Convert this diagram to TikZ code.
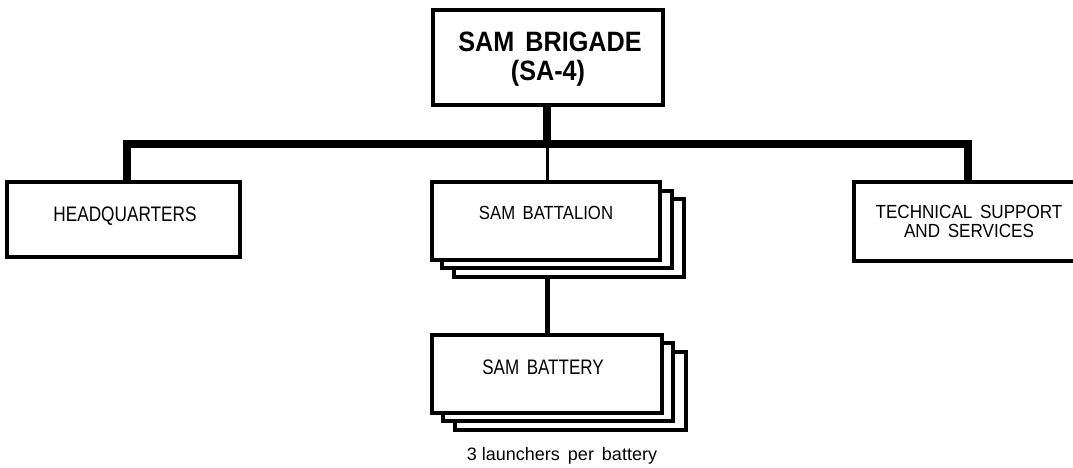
\documentclass[tikz,border=0pt]{standalone}
\usepackage{fontspec}
\usepackage{graphicx}
\setmainfont{Liberation Sans}
\begin{document}
\begin{tikzpicture}[x=1pt,y=-1pt,
  unit/.style={draw=black,line width=4.5pt,fill=white},
  backunit/.style={draw=black,line width=3.5pt,fill=white},
  bar/.style={line width=8pt},
  thinbar/.style={line width=3pt},
  txt/.style={inner sep=0pt,align=center}]
\useasboundingbox (0,0) rectangle (1073,468);
% top
\draw[unit] (433,10) rectangle (663,105);
\node[txt] (brig) at (550,42) {\scalebox{0.9}[1]{\fontsize{28}{30}\selectfont\bfseries SAM\, BRIGADE}};
\node[txt] (brig2) at (548,73) {\scalebox{0.9}[1]{\fontsize{28}{30}\selectfont\bfseries (SA-4)}};
\coordinate (topbot) at (547,106);
\coordinate (barmid) at (547,144);
\coordinate (barL) at (127,144);
\coordinate (barR) at (968,144);
% HQ
\draw[unit] (7,182) rectangle (240,257);
\node[txt] (hq) at (125,216) {\scalebox{0.82}[1]{\fontsize{21}{23}\selectfont HEADQUARTERS}};
% tech
\draw[unit] (854,182) rectangle (1078,261);
\node[txt] (tech1) at (969,212) {\scalebox{0.9}[1]{\fontsize{19}{20}\selectfont TECHNICAL\, SUPPORT}};
\node[txt] (tech2) at (969,231) {\scalebox{0.9}[1]{\fontsize{19}{20}\selectfont AND\, SERVICES}};
% battalion stack
\draw[backunit] (454,199) rectangle (684,277);
\draw[backunit] (442,191) rectangle (672,268);
\draw[unit] (432,182) rectangle (660,260);
\node[txt] (btn) at (546,213) {\scalebox{0.88}[1]{\fontsize{19}{20}\selectfont SAM\, BATTALION}};
\coordinate (btntop) at (547,182);
\coordinate (btnbot) at (547,277);
% battery stack
\draw[backunit] (455,352) rectangle (686,430);
\draw[backunit] (443,343) rectangle (673,421);
\draw[unit] (432,335) rectangle (662,413);
\node[txt] (bty) at (543,367) {\scalebox{0.81}[1]{\fontsize{21}{23}\selectfont SAM\, BATTERY}};
\coordinate (btytop) at (547,335);
\node[txt] (note) at (562,456) {\fontsize{18}{20}\selectfont 3 launchers\, per\, battery};
% connectors
\draw[bar] (topbot) -- (barmid);
\draw[bar,line cap=rect] (barL) -- (barR);
\draw[bar] (barL) -- (127,182);
\draw[bar] (barR) -- (968,182);
\draw[thinbar] (barmid) -- (btntop);
\draw[line width=5pt] (btnbot) -- (btytop);
\end{tikzpicture}
\end{document}
